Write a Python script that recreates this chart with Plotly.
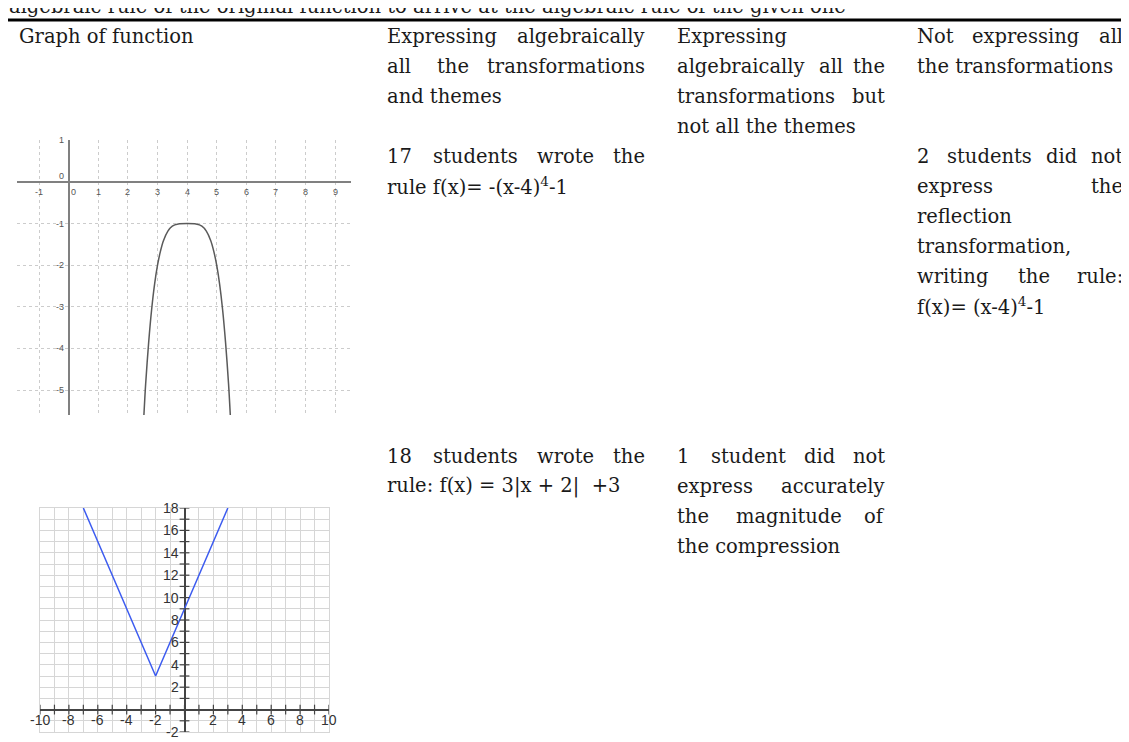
import plotly.graph_objects as go

W, H = 1129, 742

# graph 1: f(x) = -(x-4)^4 - 1
quartic_x = [2.54, 2.6, 2.7, 2.8, 2.9, 3.0, 3.1, 3.2, 3.35, 3.5, 3.7, 4.0,
             4.3, 4.5, 4.65, 4.8, 4.9, 5.0, 5.1, 5.2, 5.3, 5.4, 5.46]
quartic_y = [-5.6, -4.84, -3.86, -3.07, -2.46, -2.0, -1.66, -1.41, -1.18, -1.06, -1.01, -1.0,
             -1.01, -1.06, -1.18, -1.41, -1.66, -2.0, -2.46, -3.07, -3.86, -4.84, -5.6]

# graph 2: f(x) = 3|x + 2| + 3
vee_x = [-7, -2, 3]
vee_y = [18, 3, 18]

g1_xticks = [-1, 0, 1, 2, 3, 4, 5, 6, 7, 8, 9]
g1_yticks = [1, 0, -1, -2, -3, -4, -5]
g2_xticks = [-10, -8, -6, -4, -2, 2, 4, 6, 8, 10]
g2_yticks = [18, 16, 14, 12, 10, 8, 6, 4, 2, -2]

caption_tail = "algebraic rule of the original function to arrive at the algebraic rule of the given one"
header_graph = ["Graph of function"]
header_all = ["Expressing algebraically", "all the transformations", "and themes"]
header_partial = ["Expressing", "algebraically all the", "transformations but", "not all the themes"]
header_none = ["Not expressing all", "the transformations"]
row1_all = ["17 students wrote the", "rule f(x)= -(x-4)<sup>4</sup>-1"]
row1_none = ["2 students did not", "express the", "reflection", "transformation,",
             "writing the rule:", "f(x)= (x-4)<sup>4</sup>-1"]
row2_all = ["18 students wrote the", "rule: f(x) = 3|x + 2|  +3"]
row2_partial = ["1 student did not", "express accurately", "the magnitude of", "the compression"]

SERIF = "DejaVu Serif, serif"
SANS = "Liberation Sans, Arial, sans-serif"
INK = "#1a1a1a"
FS = 19.5
LINE = 30

COLS = {"graph": (10, 370), "all": (378, 638), "partial": (668, 878), "none": (908, 1116)}
ROW_TOP = {"header": 35, "row1": 155, "row2": 455}


def text_width(word, size=FS):
    # rough DejaVu Serif advance widths, good enough to spread justified words
    w = 0.0
    for ch in word:
        if ch in "ijlt.,:;|'!":
            w += 0.35
        elif ch in "fr()-":
            w += 0.43
        elif ch in "mwMW":
            w += 0.92
        elif ch.isupper():
            w += 0.74
        elif ch == "s":
            w += 0.51
        else:
            w += 0.61
    return w * size


fig = go.Figure()


def text_at(x_px, baseline_px, text, anchor="left"):
    fig.add_annotation(
        x=x_px / W, y=1 - (baseline_px - 0.34 * FS) / H, xref="paper", yref="paper",
        text=text, showarrow=False, xanchor=anchor, yanchor="middle", borderpad=0,
        font=dict(family=SERIF, size=FS, color=INK),
    )


def cell(lines, col, row):
    left, right = COLS[col]
    for i, line in enumerate(lines):
        base = ROW_TOP[row] + i * LINE
        words = line.split(" ")
        if i == len(lines) - 1 or len(words) == 1:
            text_at(left, base, line)
            continue
        widths = [text_width(w) for w in words]
        gap = (right - left - sum(widths)) / (len(words) - 1)
        x = left
        for j, (word, wd) in enumerate(zip(words, widths)):
            if j == len(words) - 1:
                text_at(right, base, word, anchor="right")
            else:
                text_at(x, base, word)
            x += wd + gap


# curves
fig.add_trace(go.Scatter(x=quartic_x, y=quartic_y, mode="lines", xaxis="x", yaxis="y",
                         line=dict(color="#5a5a5a", width=1.5, shape="spline", smoothing=0.8),
                         hoverinfo="skip"))
fig.add_trace(go.Scatter(x=vee_x, y=vee_y, mode="lines", xaxis="x2", yaxis="y2",
                         line=dict(color="#3d5cf0", width=1.5), hoverinfo="skip"))

# graph 2 tick marks on the axes through the origin
g2_marks = list(range(-10, 11))
fig.add_trace(go.Scatter(x=g2_marks, y=[0] * len(g2_marks), mode="markers", xaxis="x2", yaxis="y2",
                         marker=dict(symbol="line-ns", size=7, line=dict(width=1.2, color="#444")),
                         hoverinfo="skip"))
g2_vmarks = list(range(-2, 19))
fig.add_trace(go.Scatter(x=[0] * len(g2_vmarks), y=g2_vmarks, mode="markers", xaxis="x2", yaxis="y2",
                         marker=dict(symbol="line-ew", size=7, line=dict(width=1.2, color="#444")),
                         hoverinfo="skip"))

# tick labels sit on the axes through the origin, so they are annotations in data space
for v in g1_xticks:
    fig.add_annotation(x=v, y=0, xref="x", yref="y", text=str(v), showarrow=False,
                       yshift=-10, xshift=5 if v == 0 else 0,
                       font=dict(family=SANS, size=9, color="#555"))
for v in g1_yticks:
    if v == 0:
        fig.add_annotation(x=0, y=0, xref="x", yref="y", text="0", showarrow=False,
                           xanchor="right", xshift=-3, yshift=6, font=dict(family=SANS, size=9, color="#555"))
        continue
    fig.add_annotation(x=0, y=v, xref="x", yref="y", text=str(v), showarrow=False,
                       xanchor="right", xshift=-3, font=dict(family=SANS, size=9, color="#555"))
for v in g2_xticks:
    fig.add_annotation(x=v, y=0, xref="x2", yref="y2", text=str(v), showarrow=False,
                       yshift=-10, font=dict(family=SANS, size=14, color="#333"))
for v in g2_yticks:
    fig.add_annotation(x=0, y=v, xref="x2", yref="y2", text=str(v), showarrow=False,
                       xanchor="right", xshift=-4, font=dict(family=SANS, size=14, color="#333"))

# text of the table
text_at(0, 5, caption_tail)
cell(header_graph, "graph", "header")
cell(header_all, "all", "header")
cell(header_partial, "partial", "header")
cell(header_none, "none", "header")
cell(row1_all, "all", "row1")
cell(row1_none, "none", "row1")
cell(row2_all, "all", "row2")
cell(row2_partial, "partial", "row2")

fig.add_shape(type="line", xref="paper", yref="paper", x0=0, x1=1, y0=1 - 12 / H, y1=1 - 12 / H,
              line=dict(color="black", width=3))

fig.update_layout(
    width=W, height=H, margin=dict(l=0, r=0, t=0, b=0),
    paper_bgcolor="white", plot_bgcolor="white", showlegend=False,
    xaxis=dict(domain=[9 / W, 343 / W], range=[-1.75, 9.54], anchor="y", dtick=1, tick0=0,
               showticklabels=False, gridcolor="#cccccc", griddash="3px,3px", gridwidth=1,
               zeroline=True, zerolinecolor="#808080", zerolinewidth=1.5, fixedrange=True),
    yaxis=dict(domain=[1 - 407 / H, 1 - 132 / H], range=[-5.6, 1.01], anchor="x", dtick=1, tick0=0,
               showticklabels=False, gridcolor="#cccccc", griddash="3px,3px", gridwidth=1,
               zeroline=True, zerolinecolor="#808080", zerolinewidth=1.5, fixedrange=True),
    xaxis2=dict(domain=[32 / W, 321 / W], range=[-10, 10], anchor="y2", dtick=1, tick0=0,
                showticklabels=False, gridcolor="#d6d6d6", gridwidth=1, showline=True, mirror=True,
                linecolor="#d6d6d6", linewidth=1,
                zeroline=True, zerolinecolor="#444", zerolinewidth=1.5, fixedrange=True),
    yaxis2=dict(domain=[1 - 724 / H, 1 - 500 / H], range=[-2, 18], anchor="x2", dtick=1, tick0=0,
                showticklabels=False, gridcolor="#d6d6d6", gridwidth=1, showline=True, mirror=True,
                linecolor="#d6d6d6", linewidth=1,
                zeroline=True, zerolinecolor="#444", zerolinewidth=1.5, fixedrange=True),
)

fig.write_html("out.html", config={"displayModeBar": False})
